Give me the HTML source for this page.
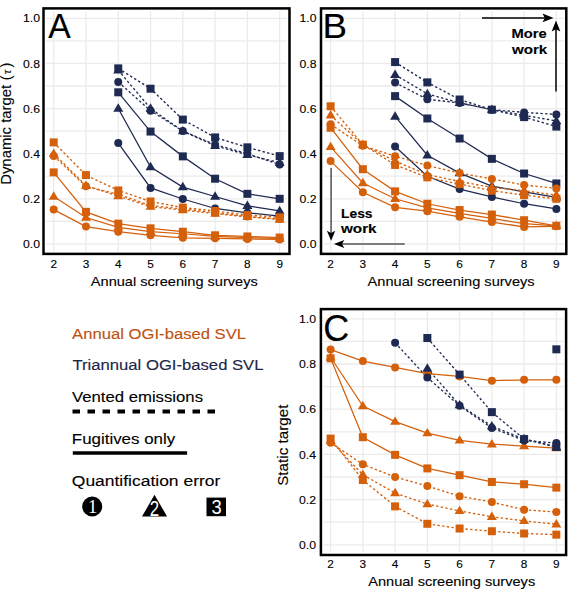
<!DOCTYPE html><html><head><meta charset="utf-8"><style>html,body{margin:0;padding:0;background:#fff;}svg{display:block;}</style></head><body><svg width="575" height="590" viewBox="0 0 575 590" font-family="'Liberation Sans', sans-serif"><style>text{stroke-width:0.12px;}</style>
<rect width="575" height="590" fill="#fff"/>
<line x1="46.10" y1="243.90" x2="286.90" y2="243.90" stroke="#ebebeb" stroke-width="1.3"/><line x1="46.10" y1="221.34" x2="286.90" y2="221.34" stroke="#ebebeb" stroke-width="1.3"/><line x1="46.10" y1="198.78" x2="286.90" y2="198.78" stroke="#ebebeb" stroke-width="1.3"/><line x1="46.10" y1="176.22" x2="286.90" y2="176.22" stroke="#ebebeb" stroke-width="1.3"/><line x1="46.10" y1="153.66" x2="286.90" y2="153.66" stroke="#ebebeb" stroke-width="1.3"/><line x1="46.10" y1="131.10" x2="286.90" y2="131.10" stroke="#ebebeb" stroke-width="1.3"/><line x1="46.10" y1="108.54" x2="286.90" y2="108.54" stroke="#ebebeb" stroke-width="1.3"/><line x1="46.10" y1="85.98" x2="286.90" y2="85.98" stroke="#ebebeb" stroke-width="1.3"/><line x1="46.10" y1="63.42" x2="286.90" y2="63.42" stroke="#ebebeb" stroke-width="1.3"/><line x1="46.10" y1="40.86" x2="286.90" y2="40.86" stroke="#ebebeb" stroke-width="1.3"/><line x1="46.10" y1="18.30" x2="286.90" y2="18.30" stroke="#ebebeb" stroke-width="1.3"/><line x1="53.70" y1="11.00" x2="53.70" y2="251.30" stroke="#ebebeb" stroke-width="1.3"/><line x1="85.98" y1="11.00" x2="85.98" y2="251.30" stroke="#ebebeb" stroke-width="1.3"/><line x1="118.26" y1="11.00" x2="118.26" y2="251.30" stroke="#ebebeb" stroke-width="1.3"/><line x1="150.54" y1="11.00" x2="150.54" y2="251.30" stroke="#ebebeb" stroke-width="1.3"/><line x1="182.82" y1="11.00" x2="182.82" y2="251.30" stroke="#ebebeb" stroke-width="1.3"/><line x1="215.10" y1="11.00" x2="215.10" y2="251.30" stroke="#ebebeb" stroke-width="1.3"/><line x1="247.38" y1="11.00" x2="247.38" y2="251.30" stroke="#ebebeb" stroke-width="1.3"/><line x1="279.66" y1="11.00" x2="279.66" y2="251.30" stroke="#ebebeb" stroke-width="1.3"/>
<path d="M118.26 143.06 L150.54 187.95 L182.82 199.01 L215.10 208.48 L247.38 212.77 L279.66 216.15" fill="none" stroke="#1e2a52" stroke-width="1.25"/><path d="M118.26 108.54 L150.54 166.97 L182.82 187.05 L215.10 196.52 L247.38 205.77 L279.66 210.96" fill="none" stroke="#1e2a52" stroke-width="1.25"/><path d="M118.26 92.30 L150.54 131.55 L182.82 156.37 L215.10 178.70 L247.38 193.82 L279.66 198.78" fill="none" stroke="#1e2a52" stroke-width="1.25"/><path d="M118.26 81.92 L150.54 110.80 L182.82 131.10 L215.10 144.64 L247.38 153.66 L279.66 164.49" fill="none" stroke="#1e2a52" stroke-width="1.35" stroke-dasharray="2.4 2.3"/><path d="M118.26 70.19 L150.54 108.54 L182.82 131.10 L215.10 145.76 L247.38 154.79 L279.66 162.68" fill="none" stroke="#1e2a52" stroke-width="1.35" stroke-dasharray="2.4 2.3"/><path d="M118.26 68.38 L150.54 88.69 L182.82 119.59 L215.10 137.42 L247.38 147.34 L279.66 156.14" fill="none" stroke="#1e2a52" stroke-width="1.35" stroke-dasharray="2.4 2.3"/><path d="M53.70 209.61 L85.98 226.53 L118.26 231.72 L150.54 235.33 L182.82 237.81 L215.10 238.26 L247.38 238.94 L279.66 239.39" fill="none" stroke="#d5600c" stroke-width="1.25"/><path d="M53.70 196.52 L85.98 217.50 L118.26 227.43 L150.54 231.72 L182.82 233.75 L215.10 236.46 L247.38 237.58 L279.66 238.49" fill="none" stroke="#d5600c" stroke-width="1.25"/><path d="M53.70 172.38 L85.98 211.86 L118.26 223.60 L150.54 228.33 L182.82 231.72 L215.10 235.33 L247.38 236.46 L279.66 237.58" fill="none" stroke="#d5600c" stroke-width="1.25"/><path d="M53.70 155.92 L85.98 186.37 L118.26 194.27 L150.54 205.55 L182.82 208.93 L215.10 212.77 L247.38 216.38 L279.66 219.08" fill="none" stroke="#d5600c" stroke-width="1.35" stroke-dasharray="2.4 2.3"/><path d="M53.70 153.66 L85.98 185.70 L118.26 196.07 L150.54 206.68 L182.82 210.06 L215.10 213.67 L247.38 216.83 L279.66 219.54" fill="none" stroke="#d5600c" stroke-width="1.35" stroke-dasharray="2.4 2.3"/><path d="M53.70 142.38 L85.98 175.09 L118.26 190.43 L150.54 201.49 L182.82 207.58 L215.10 210.96 L247.38 215.02 L279.66 217.28" fill="none" stroke="#d5600c" stroke-width="1.35" stroke-dasharray="2.4 2.3"/>
<circle cx="118.26" cy="143.06" r="4.0" fill="#1e2a52"/><circle cx="150.54" cy="187.95" r="4.0" fill="#1e2a52"/><circle cx="182.82" cy="199.01" r="4.0" fill="#1e2a52"/><circle cx="215.10" cy="208.48" r="4.0" fill="#1e2a52"/><circle cx="247.38" cy="212.77" r="4.0" fill="#1e2a52"/><circle cx="279.66" cy="216.15" r="4.0" fill="#1e2a52"/><path d="M118.26 103.33L123.26 111.73L113.26 111.73Z" fill="#1e2a52"/><path d="M150.54 161.76L155.54 170.16L145.54 170.16Z" fill="#1e2a52"/><path d="M182.82 181.84L187.82 190.24L177.82 190.24Z" fill="#1e2a52"/><path d="M215.10 191.32L220.10 199.72L210.10 199.72Z" fill="#1e2a52"/><path d="M247.38 200.57L252.38 208.97L242.38 208.97Z" fill="#1e2a52"/><path d="M279.66 205.75L284.66 214.15L274.66 214.15Z" fill="#1e2a52"/><rect x="114.26" y="88.30" width="8.0" height="8.0" fill="#1e2a52"/><rect x="146.54" y="127.55" width="8.0" height="8.0" fill="#1e2a52"/><rect x="178.82" y="152.37" width="8.0" height="8.0" fill="#1e2a52"/><rect x="211.10" y="174.70" width="8.0" height="8.0" fill="#1e2a52"/><rect x="243.38" y="189.82" width="8.0" height="8.0" fill="#1e2a52"/><rect x="275.66" y="194.78" width="8.0" height="8.0" fill="#1e2a52"/><circle cx="118.26" cy="81.92" r="4.0" fill="#1e2a52"/><circle cx="150.54" cy="110.80" r="4.0" fill="#1e2a52"/><circle cx="182.82" cy="131.10" r="4.0" fill="#1e2a52"/><circle cx="215.10" cy="144.64" r="4.0" fill="#1e2a52"/><circle cx="247.38" cy="153.66" r="4.0" fill="#1e2a52"/><circle cx="279.66" cy="164.49" r="4.0" fill="#1e2a52"/><path d="M118.26 64.98L123.26 73.38L113.26 73.38Z" fill="#1e2a52"/><path d="M150.54 103.33L155.54 111.73L145.54 111.73Z" fill="#1e2a52"/><path d="M182.82 125.89L187.82 134.29L177.82 134.29Z" fill="#1e2a52"/><path d="M215.10 140.56L220.10 148.96L210.10 148.96Z" fill="#1e2a52"/><path d="M247.38 149.58L252.38 157.98L242.38 157.98Z" fill="#1e2a52"/><path d="M279.66 157.48L284.66 165.88L274.66 165.88Z" fill="#1e2a52"/><rect x="114.26" y="64.38" width="8.0" height="8.0" fill="#1e2a52"/><rect x="146.54" y="84.69" width="8.0" height="8.0" fill="#1e2a52"/><rect x="178.82" y="115.59" width="8.0" height="8.0" fill="#1e2a52"/><rect x="211.10" y="133.42" width="8.0" height="8.0" fill="#1e2a52"/><rect x="243.38" y="143.34" width="8.0" height="8.0" fill="#1e2a52"/><rect x="275.66" y="152.14" width="8.0" height="8.0" fill="#1e2a52"/><circle cx="53.70" cy="209.61" r="4.0" fill="#d5600c"/><circle cx="85.98" cy="226.53" r="4.0" fill="#d5600c"/><circle cx="118.26" cy="231.72" r="4.0" fill="#d5600c"/><circle cx="150.54" cy="235.33" r="4.0" fill="#d5600c"/><circle cx="182.82" cy="237.81" r="4.0" fill="#d5600c"/><circle cx="215.10" cy="238.26" r="4.0" fill="#d5600c"/><circle cx="247.38" cy="238.94" r="4.0" fill="#d5600c"/><circle cx="279.66" cy="239.39" r="4.0" fill="#d5600c"/><path d="M53.70 191.32L58.70 199.72L48.70 199.72Z" fill="#d5600c"/><path d="M85.98 212.30L90.98 220.70L80.98 220.70Z" fill="#d5600c"/><path d="M118.26 222.22L123.26 230.62L113.26 230.62Z" fill="#d5600c"/><path d="M150.54 226.51L155.54 234.91L145.54 234.91Z" fill="#d5600c"/><path d="M182.82 228.54L187.82 236.94L177.82 236.94Z" fill="#d5600c"/><path d="M215.10 231.25L220.10 239.65L210.10 239.65Z" fill="#d5600c"/><path d="M247.38 232.38L252.38 240.78L242.38 240.78Z" fill="#d5600c"/><path d="M279.66 233.28L284.66 241.68L274.66 241.68Z" fill="#d5600c"/><rect x="49.70" y="168.38" width="8.0" height="8.0" fill="#d5600c"/><rect x="81.98" y="207.86" width="8.0" height="8.0" fill="#d5600c"/><rect x="114.26" y="219.60" width="8.0" height="8.0" fill="#d5600c"/><rect x="146.54" y="224.33" width="8.0" height="8.0" fill="#d5600c"/><rect x="178.82" y="227.72" width="8.0" height="8.0" fill="#d5600c"/><rect x="211.10" y="231.33" width="8.0" height="8.0" fill="#d5600c"/><rect x="243.38" y="232.46" width="8.0" height="8.0" fill="#d5600c"/><rect x="275.66" y="233.58" width="8.0" height="8.0" fill="#d5600c"/><circle cx="53.70" cy="155.92" r="4.0" fill="#d5600c"/><circle cx="85.98" cy="186.37" r="4.0" fill="#d5600c"/><circle cx="118.26" cy="194.27" r="4.0" fill="#d5600c"/><circle cx="150.54" cy="205.55" r="4.0" fill="#d5600c"/><circle cx="182.82" cy="208.93" r="4.0" fill="#d5600c"/><circle cx="215.10" cy="212.77" r="4.0" fill="#d5600c"/><circle cx="247.38" cy="216.38" r="4.0" fill="#d5600c"/><circle cx="279.66" cy="219.08" r="4.0" fill="#d5600c"/><path d="M53.70 148.45L58.70 156.85L48.70 156.85Z" fill="#d5600c"/><path d="M85.98 180.49L90.98 188.89L80.98 188.89Z" fill="#d5600c"/><path d="M118.26 190.86L123.26 199.26L113.26 199.26Z" fill="#d5600c"/><path d="M150.54 201.47L155.54 209.87L145.54 209.87Z" fill="#d5600c"/><path d="M182.82 204.85L187.82 213.25L177.82 213.25Z" fill="#d5600c"/><path d="M215.10 208.46L220.10 216.86L210.10 216.86Z" fill="#d5600c"/><path d="M247.38 211.62L252.38 220.02L242.38 220.02Z" fill="#d5600c"/><path d="M279.66 214.33L284.66 222.73L274.66 222.73Z" fill="#d5600c"/><rect x="49.70" y="138.38" width="8.0" height="8.0" fill="#d5600c"/><rect x="81.98" y="171.09" width="8.0" height="8.0" fill="#d5600c"/><rect x="114.26" y="186.43" width="8.0" height="8.0" fill="#d5600c"/><rect x="146.54" y="197.49" width="8.0" height="8.0" fill="#d5600c"/><rect x="178.82" y="203.58" width="8.0" height="8.0" fill="#d5600c"/><rect x="211.10" y="206.96" width="8.0" height="8.0" fill="#d5600c"/><rect x="243.38" y="211.02" width="8.0" height="8.0" fill="#d5600c"/><rect x="275.66" y="213.28" width="8.0" height="8.0" fill="#d5600c"/>
<rect x="43.5" y="8.4" width="246.00" height="245.50" fill="none" stroke="#000" stroke-width="2.5"/>
<line x1="323.60" y1="243.90" x2="563.70" y2="243.90" stroke="#ebebeb" stroke-width="1.3"/><line x1="323.60" y1="221.34" x2="563.70" y2="221.34" stroke="#ebebeb" stroke-width="1.3"/><line x1="323.60" y1="198.78" x2="563.70" y2="198.78" stroke="#ebebeb" stroke-width="1.3"/><line x1="323.60" y1="176.22" x2="563.70" y2="176.22" stroke="#ebebeb" stroke-width="1.3"/><line x1="323.60" y1="153.66" x2="563.70" y2="153.66" stroke="#ebebeb" stroke-width="1.3"/><line x1="323.60" y1="131.10" x2="563.70" y2="131.10" stroke="#ebebeb" stroke-width="1.3"/><line x1="323.60" y1="108.54" x2="563.70" y2="108.54" stroke="#ebebeb" stroke-width="1.3"/><line x1="323.60" y1="85.98" x2="563.70" y2="85.98" stroke="#ebebeb" stroke-width="1.3"/><line x1="323.60" y1="63.42" x2="563.70" y2="63.42" stroke="#ebebeb" stroke-width="1.3"/><line x1="323.60" y1="40.86" x2="563.70" y2="40.86" stroke="#ebebeb" stroke-width="1.3"/><line x1="323.60" y1="18.30" x2="563.70" y2="18.30" stroke="#ebebeb" stroke-width="1.3"/><line x1="330.60" y1="11.00" x2="330.60" y2="251.30" stroke="#ebebeb" stroke-width="1.3"/><line x1="362.85" y1="11.00" x2="362.85" y2="251.30" stroke="#ebebeb" stroke-width="1.3"/><line x1="395.10" y1="11.00" x2="395.10" y2="251.30" stroke="#ebebeb" stroke-width="1.3"/><line x1="427.35" y1="11.00" x2="427.35" y2="251.30" stroke="#ebebeb" stroke-width="1.3"/><line x1="459.60" y1="11.00" x2="459.60" y2="251.30" stroke="#ebebeb" stroke-width="1.3"/><line x1="491.85" y1="11.00" x2="491.85" y2="251.30" stroke="#ebebeb" stroke-width="1.3"/><line x1="524.10" y1="11.00" x2="524.10" y2="251.30" stroke="#ebebeb" stroke-width="1.3"/><line x1="556.35" y1="11.00" x2="556.35" y2="251.30" stroke="#ebebeb" stroke-width="1.3"/>
<path d="M395.10 146.44 L427.35 176.22 L459.60 189.08 L491.85 196.98 L524.10 203.74 L556.35 208.93" fill="none" stroke="#1e2a52" stroke-width="1.25"/><path d="M395.10 116.44 L427.35 155.24 L459.60 173.06 L491.85 186.15 L524.10 191.79 L556.35 197.43" fill="none" stroke="#1e2a52" stroke-width="1.25"/><path d="M395.10 96.13 L427.35 118.47 L459.60 138.54 L491.85 158.85 L524.10 173.51 L556.35 183.44" fill="none" stroke="#1e2a52" stroke-width="1.25"/><path d="M395.10 82.60 L427.35 99.29 L459.60 102.90 L491.85 109.67 L524.10 112.38 L556.35 114.41" fill="none" stroke="#1e2a52" stroke-width="1.35" stroke-dasharray="2.4 2.3"/><path d="M395.10 74.70 L427.35 93.88 L459.60 102.90 L491.85 109.67 L524.10 115.31 L556.35 120.95" fill="none" stroke="#1e2a52" stroke-width="1.35" stroke-dasharray="2.4 2.3"/><path d="M395.10 62.07 L427.35 82.37 L459.60 99.52 L491.85 109.67 L524.10 117.11 L556.35 126.59" fill="none" stroke="#1e2a52" stroke-width="1.35" stroke-dasharray="2.4 2.3"/><path d="M330.60 161.10 L362.85 192.24 L395.10 207.35 L427.35 211.19 L459.60 216.83 L491.85 222.02 L524.10 226.98 L556.35 226.30" fill="none" stroke="#d5600c" stroke-width="1.25"/><path d="M330.60 146.89 L362.85 182.99 L395.10 198.78 L427.35 207.80 L459.60 213.44 L491.85 218.41 L524.10 223.60 L556.35 225.85" fill="none" stroke="#d5600c" stroke-width="1.25"/><path d="M330.60 127.72 L362.85 169.23 L395.10 191.34 L427.35 203.74 L459.60 210.06 L491.85 214.57 L524.10 220.21 L556.35 225.85" fill="none" stroke="#d5600c" stroke-width="1.25"/><path d="M330.60 124.33 L362.85 145.76 L395.10 156.14 L427.35 165.62 L459.60 173.06 L491.85 178.93 L524.10 185.02 L556.35 188.40" fill="none" stroke="#d5600c" stroke-width="1.35" stroke-dasharray="2.4 2.3"/><path d="M330.60 115.31 L362.85 144.64 L395.10 161.10 L427.35 174.64 L459.60 181.41 L491.85 187.50 L524.10 190.66 L556.35 195.17" fill="none" stroke="#d5600c" stroke-width="1.35" stroke-dasharray="2.4 2.3"/><path d="M330.60 106.28 L362.85 144.64 L395.10 164.94 L427.35 177.35 L459.60 184.12 L491.85 190.66 L524.10 195.17 L556.35 198.78" fill="none" stroke="#d5600c" stroke-width="1.35" stroke-dasharray="2.4 2.3"/>
<circle cx="395.10" cy="146.44" r="4.0" fill="#1e2a52"/><circle cx="427.35" cy="176.22" r="4.0" fill="#1e2a52"/><circle cx="459.60" cy="189.08" r="4.0" fill="#1e2a52"/><circle cx="491.85" cy="196.98" r="4.0" fill="#1e2a52"/><circle cx="524.10" cy="203.74" r="4.0" fill="#1e2a52"/><circle cx="556.35" cy="208.93" r="4.0" fill="#1e2a52"/><path d="M395.10 111.23L400.10 119.63L390.10 119.63Z" fill="#1e2a52"/><path d="M427.35 150.03L432.35 158.43L422.35 158.43Z" fill="#1e2a52"/><path d="M459.60 167.85L464.60 176.25L454.60 176.25Z" fill="#1e2a52"/><path d="M491.85 180.94L496.85 189.34L486.85 189.34Z" fill="#1e2a52"/><path d="M524.10 186.58L529.10 194.98L519.10 194.98Z" fill="#1e2a52"/><path d="M556.35 192.22L561.35 200.62L551.35 200.62Z" fill="#1e2a52"/><rect x="391.10" y="92.13" width="8.0" height="8.0" fill="#1e2a52"/><rect x="423.35" y="114.47" width="8.0" height="8.0" fill="#1e2a52"/><rect x="455.60" y="134.54" width="8.0" height="8.0" fill="#1e2a52"/><rect x="487.85" y="154.85" width="8.0" height="8.0" fill="#1e2a52"/><rect x="520.10" y="169.51" width="8.0" height="8.0" fill="#1e2a52"/><rect x="552.35" y="179.44" width="8.0" height="8.0" fill="#1e2a52"/><circle cx="395.10" cy="82.60" r="4.0" fill="#1e2a52"/><circle cx="427.35" cy="99.29" r="4.0" fill="#1e2a52"/><circle cx="459.60" cy="102.90" r="4.0" fill="#1e2a52"/><circle cx="491.85" cy="109.67" r="4.0" fill="#1e2a52"/><circle cx="524.10" cy="112.38" r="4.0" fill="#1e2a52"/><circle cx="556.35" cy="114.41" r="4.0" fill="#1e2a52"/><path d="M395.10 69.49L400.10 77.89L390.10 77.89Z" fill="#1e2a52"/><path d="M427.35 88.67L432.35 97.07L422.35 97.07Z" fill="#1e2a52"/><path d="M459.60 97.69L464.60 106.09L454.60 106.09Z" fill="#1e2a52"/><path d="M491.85 104.46L496.85 112.86L486.85 112.86Z" fill="#1e2a52"/><path d="M524.10 110.10L529.10 118.50L519.10 118.50Z" fill="#1e2a52"/><path d="M556.35 115.74L561.35 124.14L551.35 124.14Z" fill="#1e2a52"/><rect x="391.10" y="58.07" width="8.0" height="8.0" fill="#1e2a52"/><rect x="423.35" y="78.37" width="8.0" height="8.0" fill="#1e2a52"/><rect x="455.60" y="95.52" width="8.0" height="8.0" fill="#1e2a52"/><rect x="487.85" y="105.67" width="8.0" height="8.0" fill="#1e2a52"/><rect x="520.10" y="113.11" width="8.0" height="8.0" fill="#1e2a52"/><rect x="552.35" y="122.59" width="8.0" height="8.0" fill="#1e2a52"/><circle cx="330.60" cy="161.10" r="4.0" fill="#d5600c"/><circle cx="362.85" cy="192.24" r="4.0" fill="#d5600c"/><circle cx="395.10" cy="207.35" r="4.0" fill="#d5600c"/><circle cx="427.35" cy="211.19" r="4.0" fill="#d5600c"/><circle cx="459.60" cy="216.83" r="4.0" fill="#d5600c"/><circle cx="491.85" cy="222.02" r="4.0" fill="#d5600c"/><circle cx="524.10" cy="226.98" r="4.0" fill="#d5600c"/><circle cx="556.35" cy="226.30" r="4.0" fill="#d5600c"/><path d="M330.60 141.68L335.60 150.08L325.60 150.08Z" fill="#d5600c"/><path d="M362.85 177.78L367.85 186.18L357.85 186.18Z" fill="#d5600c"/><path d="M395.10 193.57L400.10 201.97L390.10 201.97Z" fill="#d5600c"/><path d="M427.35 202.60L432.35 211.00L422.35 211.00Z" fill="#d5600c"/><path d="M459.60 208.24L464.60 216.64L454.60 216.64Z" fill="#d5600c"/><path d="M491.85 213.20L496.85 221.60L486.85 221.60Z" fill="#d5600c"/><path d="M524.10 218.39L529.10 226.79L519.10 226.79Z" fill="#d5600c"/><path d="M556.35 220.64L561.35 229.04L551.35 229.04Z" fill="#d5600c"/><rect x="326.60" y="123.72" width="8.0" height="8.0" fill="#d5600c"/><rect x="358.85" y="165.23" width="8.0" height="8.0" fill="#d5600c"/><rect x="391.10" y="187.34" width="8.0" height="8.0" fill="#d5600c"/><rect x="423.35" y="199.74" width="8.0" height="8.0" fill="#d5600c"/><rect x="455.60" y="206.06" width="8.0" height="8.0" fill="#d5600c"/><rect x="487.85" y="210.57" width="8.0" height="8.0" fill="#d5600c"/><rect x="520.10" y="216.21" width="8.0" height="8.0" fill="#d5600c"/><rect x="552.35" y="221.85" width="8.0" height="8.0" fill="#d5600c"/><circle cx="330.60" cy="124.33" r="4.0" fill="#d5600c"/><circle cx="362.85" cy="145.76" r="4.0" fill="#d5600c"/><circle cx="395.10" cy="156.14" r="4.0" fill="#d5600c"/><circle cx="427.35" cy="165.62" r="4.0" fill="#d5600c"/><circle cx="459.60" cy="173.06" r="4.0" fill="#d5600c"/><circle cx="491.85" cy="178.93" r="4.0" fill="#d5600c"/><circle cx="524.10" cy="185.02" r="4.0" fill="#d5600c"/><circle cx="556.35" cy="188.40" r="4.0" fill="#d5600c"/><path d="M330.60 110.10L335.60 118.50L325.60 118.50Z" fill="#d5600c"/><path d="M362.85 139.43L367.85 147.83L357.85 147.83Z" fill="#d5600c"/><path d="M395.10 155.90L400.10 164.30L390.10 164.30Z" fill="#d5600c"/><path d="M427.35 169.43L432.35 177.83L422.35 177.83Z" fill="#d5600c"/><path d="M459.60 176.20L464.60 184.60L454.60 184.60Z" fill="#d5600c"/><path d="M491.85 182.29L496.85 190.69L486.85 190.69Z" fill="#d5600c"/><path d="M524.10 185.45L529.10 193.85L519.10 193.85Z" fill="#d5600c"/><path d="M556.35 189.96L561.35 198.36L551.35 198.36Z" fill="#d5600c"/><rect x="326.60" y="102.28" width="8.0" height="8.0" fill="#d5600c"/><rect x="358.85" y="140.64" width="8.0" height="8.0" fill="#d5600c"/><rect x="391.10" y="160.94" width="8.0" height="8.0" fill="#d5600c"/><rect x="423.35" y="173.35" width="8.0" height="8.0" fill="#d5600c"/><rect x="455.60" y="180.12" width="8.0" height="8.0" fill="#d5600c"/><rect x="487.85" y="186.66" width="8.0" height="8.0" fill="#d5600c"/><rect x="520.10" y="191.17" width="8.0" height="8.0" fill="#d5600c"/><rect x="552.35" y="194.78" width="8.0" height="8.0" fill="#d5600c"/>
<rect x="321.0" y="8.4" width="245.30" height="245.50" fill="none" stroke="#000" stroke-width="2.5"/>
<line x1="323.50" y1="544.80" x2="563.50" y2="544.80" stroke="#ebebeb" stroke-width="1.3"/><line x1="323.50" y1="522.20" x2="563.50" y2="522.20" stroke="#ebebeb" stroke-width="1.3"/><line x1="323.50" y1="499.60" x2="563.50" y2="499.60" stroke="#ebebeb" stroke-width="1.3"/><line x1="323.50" y1="477.00" x2="563.50" y2="477.00" stroke="#ebebeb" stroke-width="1.3"/><line x1="323.50" y1="454.40" x2="563.50" y2="454.40" stroke="#ebebeb" stroke-width="1.3"/><line x1="323.50" y1="431.80" x2="563.50" y2="431.80" stroke="#ebebeb" stroke-width="1.3"/><line x1="323.50" y1="409.20" x2="563.50" y2="409.20" stroke="#ebebeb" stroke-width="1.3"/><line x1="323.50" y1="386.60" x2="563.50" y2="386.60" stroke="#ebebeb" stroke-width="1.3"/><line x1="323.50" y1="364.00" x2="563.50" y2="364.00" stroke="#ebebeb" stroke-width="1.3"/><line x1="323.50" y1="341.40" x2="563.50" y2="341.40" stroke="#ebebeb" stroke-width="1.3"/><line x1="323.50" y1="318.80" x2="563.50" y2="318.80" stroke="#ebebeb" stroke-width="1.3"/><line x1="330.60" y1="311.70" x2="330.60" y2="552.40" stroke="#ebebeb" stroke-width="1.3"/><line x1="362.85" y1="311.70" x2="362.85" y2="552.40" stroke="#ebebeb" stroke-width="1.3"/><line x1="395.10" y1="311.70" x2="395.10" y2="552.40" stroke="#ebebeb" stroke-width="1.3"/><line x1="427.35" y1="311.70" x2="427.35" y2="552.40" stroke="#ebebeb" stroke-width="1.3"/><line x1="459.60" y1="311.70" x2="459.60" y2="552.40" stroke="#ebebeb" stroke-width="1.3"/><line x1="491.85" y1="311.70" x2="491.85" y2="552.40" stroke="#ebebeb" stroke-width="1.3"/><line x1="524.10" y1="311.70" x2="524.10" y2="552.40" stroke="#ebebeb" stroke-width="1.3"/><line x1="556.35" y1="311.70" x2="556.35" y2="552.40" stroke="#ebebeb" stroke-width="1.3"/>
<path d="M330.60 349.54 L362.85 361.06 L395.10 367.39 L427.35 373.72 L459.60 376.43 L491.85 380.72 L524.10 379.82 L556.35 379.82" fill="none" stroke="#d5600c" stroke-width="1.25"/><path d="M330.60 357.22 L362.85 406.04 L395.10 421.63 L427.35 433.16 L459.60 440.39 L491.85 444.23 L524.10 446.04 L556.35 448.07" fill="none" stroke="#d5600c" stroke-width="1.25"/><path d="M330.60 358.35 L362.85 437.22 L395.10 454.85 L427.35 468.41 L459.60 475.19 L491.85 481.97 L524.10 484.23 L556.35 487.62" fill="none" stroke="#d5600c" stroke-width="1.25"/><path d="M330.60 442.65 L362.85 464.34 L395.10 477.00 L427.35 486.04 L459.60 496.21 L491.85 502.09 L524.10 509.77 L556.35 512.03" fill="none" stroke="#d5600c" stroke-width="1.35" stroke-dasharray="2.4 2.3"/><path d="M330.60 440.84 L362.85 474.74 L395.10 493.05 L427.35 504.12 L459.60 510.90 L491.85 516.78 L524.10 520.84 L556.35 524.23" fill="none" stroke="#d5600c" stroke-width="1.35" stroke-dasharray="2.4 2.3"/><path d="M330.60 438.58 L362.85 479.94 L395.10 506.38 L427.35 523.78 L459.60 528.53 L491.85 531.24 L524.10 533.50 L556.35 534.63" fill="none" stroke="#d5600c" stroke-width="1.35" stroke-dasharray="2.4 2.3"/><path d="M395.10 342.76 L427.35 377.56 L459.60 405.81 L491.85 427.96 L524.10 440.39 L556.35 443.10" fill="none" stroke="#1e2a52" stroke-width="1.35" stroke-dasharray="2.4 2.3"/><path d="M427.35 368.52 L459.60 405.13 L491.85 426.15 L524.10 439.03 L556.35 446.94" fill="none" stroke="#1e2a52" stroke-width="1.35" stroke-dasharray="2.4 2.3"/><path d="M427.35 338.01 L459.60 374.62 L491.85 412.14 L524.10 439.03 L556.35 446.94" fill="none" stroke="#1e2a52" stroke-width="1.35" stroke-dasharray="2.4 2.3"/>
<circle cx="330.60" cy="349.54" r="4.0" fill="#d5600c"/><circle cx="362.85" cy="361.06" r="4.0" fill="#d5600c"/><circle cx="395.10" cy="367.39" r="4.0" fill="#d5600c"/><circle cx="427.35" cy="373.72" r="4.0" fill="#d5600c"/><circle cx="459.60" cy="376.43" r="4.0" fill="#d5600c"/><circle cx="491.85" cy="380.72" r="4.0" fill="#d5600c"/><circle cx="524.10" cy="379.82" r="4.0" fill="#d5600c"/><circle cx="556.35" cy="379.82" r="4.0" fill="#d5600c"/><path d="M330.60 352.01L335.60 360.41L325.60 360.41Z" fill="#d5600c"/><path d="M362.85 400.83L367.85 409.23L357.85 409.23Z" fill="#d5600c"/><path d="M395.10 416.42L400.10 424.82L390.10 424.82Z" fill="#d5600c"/><path d="M427.35 427.95L432.35 436.35L422.35 436.35Z" fill="#d5600c"/><path d="M459.60 435.18L464.60 443.58L454.60 443.58Z" fill="#d5600c"/><path d="M491.85 439.02L496.85 447.42L486.85 447.42Z" fill="#d5600c"/><path d="M524.10 440.83L529.10 449.23L519.10 449.23Z" fill="#d5600c"/><path d="M556.35 442.86L561.35 451.26L551.35 451.26Z" fill="#d5600c"/><rect x="326.60" y="354.35" width="8.0" height="8.0" fill="#d5600c"/><rect x="358.85" y="433.22" width="8.0" height="8.0" fill="#d5600c"/><rect x="391.10" y="450.85" width="8.0" height="8.0" fill="#d5600c"/><rect x="423.35" y="464.41" width="8.0" height="8.0" fill="#d5600c"/><rect x="455.60" y="471.19" width="8.0" height="8.0" fill="#d5600c"/><rect x="487.85" y="477.97" width="8.0" height="8.0" fill="#d5600c"/><rect x="520.10" y="480.23" width="8.0" height="8.0" fill="#d5600c"/><rect x="552.35" y="483.62" width="8.0" height="8.0" fill="#d5600c"/><circle cx="330.60" cy="442.65" r="4.0" fill="#d5600c"/><circle cx="362.85" cy="464.34" r="4.0" fill="#d5600c"/><circle cx="395.10" cy="477.00" r="4.0" fill="#d5600c"/><circle cx="427.35" cy="486.04" r="4.0" fill="#d5600c"/><circle cx="459.60" cy="496.21" r="4.0" fill="#d5600c"/><circle cx="491.85" cy="502.09" r="4.0" fill="#d5600c"/><circle cx="524.10" cy="509.77" r="4.0" fill="#d5600c"/><circle cx="556.35" cy="512.03" r="4.0" fill="#d5600c"/><path d="M330.60 435.63L335.60 444.03L325.60 444.03Z" fill="#d5600c"/><path d="M362.85 469.53L367.85 477.93L357.85 477.93Z" fill="#d5600c"/><path d="M395.10 487.84L400.10 496.24L390.10 496.24Z" fill="#d5600c"/><path d="M427.35 498.91L432.35 507.31L422.35 507.31Z" fill="#d5600c"/><path d="M459.60 505.69L464.60 514.09L454.60 514.09Z" fill="#d5600c"/><path d="M491.85 511.57L496.85 519.97L486.85 519.97Z" fill="#d5600c"/><path d="M524.10 515.64L529.10 524.04L519.10 524.04Z" fill="#d5600c"/><path d="M556.35 519.03L561.35 527.43L551.35 527.43Z" fill="#d5600c"/><rect x="326.60" y="434.58" width="8.0" height="8.0" fill="#d5600c"/><rect x="358.85" y="475.94" width="8.0" height="8.0" fill="#d5600c"/><rect x="391.10" y="502.38" width="8.0" height="8.0" fill="#d5600c"/><rect x="423.35" y="519.78" width="8.0" height="8.0" fill="#d5600c"/><rect x="455.60" y="524.53" width="8.0" height="8.0" fill="#d5600c"/><rect x="487.85" y="527.24" width="8.0" height="8.0" fill="#d5600c"/><rect x="520.10" y="529.50" width="8.0" height="8.0" fill="#d5600c"/><rect x="552.35" y="530.63" width="8.0" height="8.0" fill="#d5600c"/><circle cx="395.10" cy="342.76" r="4.0" fill="#1e2a52"/><circle cx="427.35" cy="377.56" r="4.0" fill="#1e2a52"/><circle cx="459.60" cy="405.81" r="4.0" fill="#1e2a52"/><circle cx="491.85" cy="427.96" r="4.0" fill="#1e2a52"/><circle cx="524.10" cy="440.39" r="4.0" fill="#1e2a52"/><circle cx="556.35" cy="443.10" r="4.0" fill="#1e2a52"/><path d="M427.35 363.31L432.35 371.71L422.35 371.71Z" fill="#1e2a52"/><path d="M459.60 399.92L464.60 408.32L454.60 408.32Z" fill="#1e2a52"/><path d="M491.85 420.94L496.85 429.34L486.85 429.34Z" fill="#1e2a52"/><path d="M524.10 433.82L529.10 442.22L519.10 442.22Z" fill="#1e2a52"/><path d="M556.35 441.73L561.35 450.13L551.35 450.13Z" fill="#1e2a52"/><rect x="423.35" y="334.01" width="8.0" height="8.0" fill="#1e2a52"/><rect x="455.60" y="370.62" width="8.0" height="8.0" fill="#1e2a52"/><rect x="487.85" y="408.14" width="8.0" height="8.0" fill="#1e2a52"/><rect x="520.10" y="435.03" width="8.0" height="8.0" fill="#1e2a52"/><rect x="552.35" y="442.94" width="8.0" height="8.0" fill="#1e2a52"/>
<rect x="552.35" y="345.31" width="8.0" height="8.0" fill="#1e2a52"/>
<rect x="320.9" y="309.1" width="245.20" height="245.90" fill="none" stroke="#000" stroke-width="2.5"/>
<text x="40.0" y="248.00" text-anchor="end" font-size="11.8" textLength="17" lengthAdjust="spacingAndGlyphs" stroke="#000">0.0</text><text x="40.0" y="202.88" text-anchor="end" font-size="11.8" textLength="17" lengthAdjust="spacingAndGlyphs" stroke="#000">0.2</text><text x="40.0" y="157.76" text-anchor="end" font-size="11.8" textLength="17" lengthAdjust="spacingAndGlyphs" stroke="#000">0.4</text><text x="40.0" y="112.64" text-anchor="end" font-size="11.8" textLength="17" lengthAdjust="spacingAndGlyphs" stroke="#000">0.6</text><text x="40.0" y="67.52" text-anchor="end" font-size="11.8" textLength="17" lengthAdjust="spacingAndGlyphs" stroke="#000">0.8</text><text x="40.0" y="22.40" text-anchor="end" font-size="11.8" textLength="17" lengthAdjust="spacingAndGlyphs" stroke="#000">1.0</text><text x="53.70" y="268.30" text-anchor="middle" font-size="11.8" stroke="#000">2</text><text x="85.98" y="268.30" text-anchor="middle" font-size="11.8" stroke="#000">3</text><text x="118.26" y="268.30" text-anchor="middle" font-size="11.8" stroke="#000">4</text><text x="150.54" y="268.30" text-anchor="middle" font-size="11.8" stroke="#000">5</text><text x="182.82" y="268.30" text-anchor="middle" font-size="11.8" stroke="#000">6</text><text x="215.10" y="268.30" text-anchor="middle" font-size="11.8" stroke="#000">7</text><text x="247.38" y="268.30" text-anchor="middle" font-size="11.8" stroke="#000">8</text><text x="279.66" y="268.30" text-anchor="middle" font-size="11.8" stroke="#000">9</text>
<text x="316.5" y="248.00" text-anchor="end" font-size="11.8" textLength="17" lengthAdjust="spacingAndGlyphs" stroke="#000">0.0</text><text x="316.5" y="202.88" text-anchor="end" font-size="11.8" textLength="17" lengthAdjust="spacingAndGlyphs" stroke="#000">0.2</text><text x="316.5" y="157.76" text-anchor="end" font-size="11.8" textLength="17" lengthAdjust="spacingAndGlyphs" stroke="#000">0.4</text><text x="316.5" y="112.64" text-anchor="end" font-size="11.8" textLength="17" lengthAdjust="spacingAndGlyphs" stroke="#000">0.6</text><text x="316.5" y="67.52" text-anchor="end" font-size="11.8" textLength="17" lengthAdjust="spacingAndGlyphs" stroke="#000">0.8</text><text x="316.5" y="22.40" text-anchor="end" font-size="11.8" textLength="17" lengthAdjust="spacingAndGlyphs" stroke="#000">1.0</text><text x="330.60" y="268.30" text-anchor="middle" font-size="11.8" stroke="#000">2</text><text x="362.85" y="268.30" text-anchor="middle" font-size="11.8" stroke="#000">3</text><text x="395.10" y="268.30" text-anchor="middle" font-size="11.8" stroke="#000">4</text><text x="427.35" y="268.30" text-anchor="middle" font-size="11.8" stroke="#000">5</text><text x="459.60" y="268.30" text-anchor="middle" font-size="11.8" stroke="#000">6</text><text x="491.85" y="268.30" text-anchor="middle" font-size="11.8" stroke="#000">7</text><text x="524.10" y="268.30" text-anchor="middle" font-size="11.8" stroke="#000">8</text><text x="556.35" y="268.30" text-anchor="middle" font-size="11.8" stroke="#000">9</text>
<text x="316.0" y="548.90" text-anchor="end" font-size="11.8" textLength="17" lengthAdjust="spacingAndGlyphs" stroke="#000">0.0</text><text x="316.0" y="503.70" text-anchor="end" font-size="11.8" textLength="17" lengthAdjust="spacingAndGlyphs" stroke="#000">0.2</text><text x="316.0" y="458.50" text-anchor="end" font-size="11.8" textLength="17" lengthAdjust="spacingAndGlyphs" stroke="#000">0.4</text><text x="316.0" y="413.30" text-anchor="end" font-size="11.8" textLength="17" lengthAdjust="spacingAndGlyphs" stroke="#000">0.6</text><text x="316.0" y="368.10" text-anchor="end" font-size="11.8" textLength="17" lengthAdjust="spacingAndGlyphs" stroke="#000">0.8</text><text x="316.0" y="322.90" text-anchor="end" font-size="11.8" textLength="17" lengthAdjust="spacingAndGlyphs" stroke="#000">1.0</text><text x="330.60" y="567.80" text-anchor="middle" font-size="11.8" stroke="#000">2</text><text x="362.85" y="567.80" text-anchor="middle" font-size="11.8" stroke="#000">3</text><text x="395.10" y="567.80" text-anchor="middle" font-size="11.8" stroke="#000">4</text><text x="427.35" y="567.80" text-anchor="middle" font-size="11.8" stroke="#000">5</text><text x="459.60" y="567.80" text-anchor="middle" font-size="11.8" stroke="#000">6</text><text x="491.85" y="567.80" text-anchor="middle" font-size="11.8" stroke="#000">7</text><text x="524.10" y="567.80" text-anchor="middle" font-size="11.8" stroke="#000">8</text><text x="556.35" y="567.80" text-anchor="middle" font-size="11.8" stroke="#000">9</text>
<text x="48.2" y="38" font-size="35.2" textLength="22.5" lengthAdjust="spacingAndGlyphs" stroke="#000">A</text>
<text x="322.6" y="38.3" font-size="35.6" textLength="24.5" lengthAdjust="spacingAndGlyphs" stroke="#000">B</text>
<text x="323.2" y="341" font-size="36.2" textLength="26" lengthAdjust="spacingAndGlyphs" stroke="#000">C</text>
<text x="90.8" y="286.3" font-size="13.2" textLength="167" lengthAdjust="spacingAndGlyphs" stroke="#000">Annual screening surveys</text>
<text x="367.6" y="286.3" font-size="13.2" textLength="167" lengthAdjust="spacingAndGlyphs" stroke="#000">Annual screening surveys</text>
<text x="368.2" y="585.6" font-size="13.2" textLength="167" lengthAdjust="spacingAndGlyphs" stroke="#000">Annual screening surveys</text>
<text transform="translate(11.3 184.8) rotate(-90)" font-size="13.8" stroke="#000"><tspan textLength="100" lengthAdjust="spacingAndGlyphs">Dynamic target</tspan><tspan x="104.6" font-size="14.5">(</tspan><tspan x="110.6" y="-0.8" font-family="Liberation Serif, serif" font-style="italic" font-size="13">τ</tspan><tspan x="117.2" y="0" font-size="14.5">)</tspan></text>
<text transform="translate(288.3 485.8) rotate(-90)" font-size="13.8" textLength="81.3" lengthAdjust="spacingAndGlyphs" stroke="#000">Static target</text>
<g stroke="#000" stroke-width="1.5" fill="#000">
<line x1="482" y1="17.9" x2="546" y2="17.9"/><path d="M553.5 17.9L542.5 13.6L544.8 17.9L542.5 22.2Z" stroke="none"/>
<line x1="556" y1="91.5" x2="556" y2="28"/><path d="M556 20.5L551.7 31.5L556 29.2L560.3 31.5Z" stroke="none"/>
</g>
<text x="511.5" y="37.9" font-size="13.4" font-weight="bold" textLength="35.2" lengthAdjust="spacingAndGlyphs" stroke="#000">More</text>
<text x="511.9" y="53.9" font-size="13.4" font-weight="bold" textLength="35.3" lengthAdjust="spacingAndGlyphs" stroke="#000">work</text>
<g stroke="#555" stroke-width="1.5" fill="#000">
<line x1="331.1" y1="168" x2="331.1" y2="233"/><path d="M331.1 240.8L326.9 230.8L331.1 233L335.3 230.8Z" stroke="none"/>
<line x1="404.8" y1="243.9" x2="342" y2="243.9"/><path d="M333.9 243.9L344.3 239.9L342 243.9L344.3 247.9Z" stroke="none"/>
</g>
<text x="341" y="217.8" font-size="13.2" font-weight="bold" textLength="31.5" lengthAdjust="spacingAndGlyphs" stroke="#000">Less</text>
<text x="341" y="233.4" font-size="13.2" font-weight="bold" textLength="35.6" lengthAdjust="spacingAndGlyphs" stroke="#000">work</text>
<text x="72.1" y="339" font-size="15.2" fill="#c0520e" textLength="174" lengthAdjust="spacingAndGlyphs" stroke="#c0520e">Annual OGI-based SVL</text>
<text x="72.5" y="370.2" font-size="15.2" fill="#1b2548" textLength="191" lengthAdjust="spacingAndGlyphs" stroke="#1b2548">Triannual OGI-based SVL</text>
<text x="72" y="401.8" font-size="15.2" textLength="131" lengthAdjust="spacingAndGlyphs" stroke="#000">Vented emissions</text>
<line x1="72.5" y1="411.4" x2="217" y2="411.4" stroke="#000" stroke-width="4" stroke-dasharray="7.5 7.5"/>
<text x="71.8" y="443.8" font-size="15.2" textLength="103.4" lengthAdjust="spacingAndGlyphs" stroke="#000">Fugitives only</text>
<line x1="72.8" y1="453" x2="187.1" y2="453" stroke="#000" stroke-width="3.7"/>
<text x="71.8" y="486.2" font-size="15.2" textLength="148.5" lengthAdjust="spacingAndGlyphs" stroke="#000">Quantification error</text>
<circle cx="92.2" cy="506.5" r="10"/>
<text x="92.7" y="513.4" font-size="18.5" fill="#fff" stroke="none" text-anchor="middle" font-family="Liberation Serif, serif">1</text>
<path d="M154.5 494.7L167.1 516.6L142 516.6Z"/>
<text x="149.8" y="515.8" font-size="21.5" fill="#fff" stroke="none" textLength="9.4" lengthAdjust="spacingAndGlyphs">2</text>
<rect x="206.5" y="497.6" width="19.5" height="18.6"/>
<text x="211.4" y="514.4" font-size="21" fill="#fff" stroke="none" textLength="10.2" lengthAdjust="spacingAndGlyphs">3</text>
</svg></body></html>
